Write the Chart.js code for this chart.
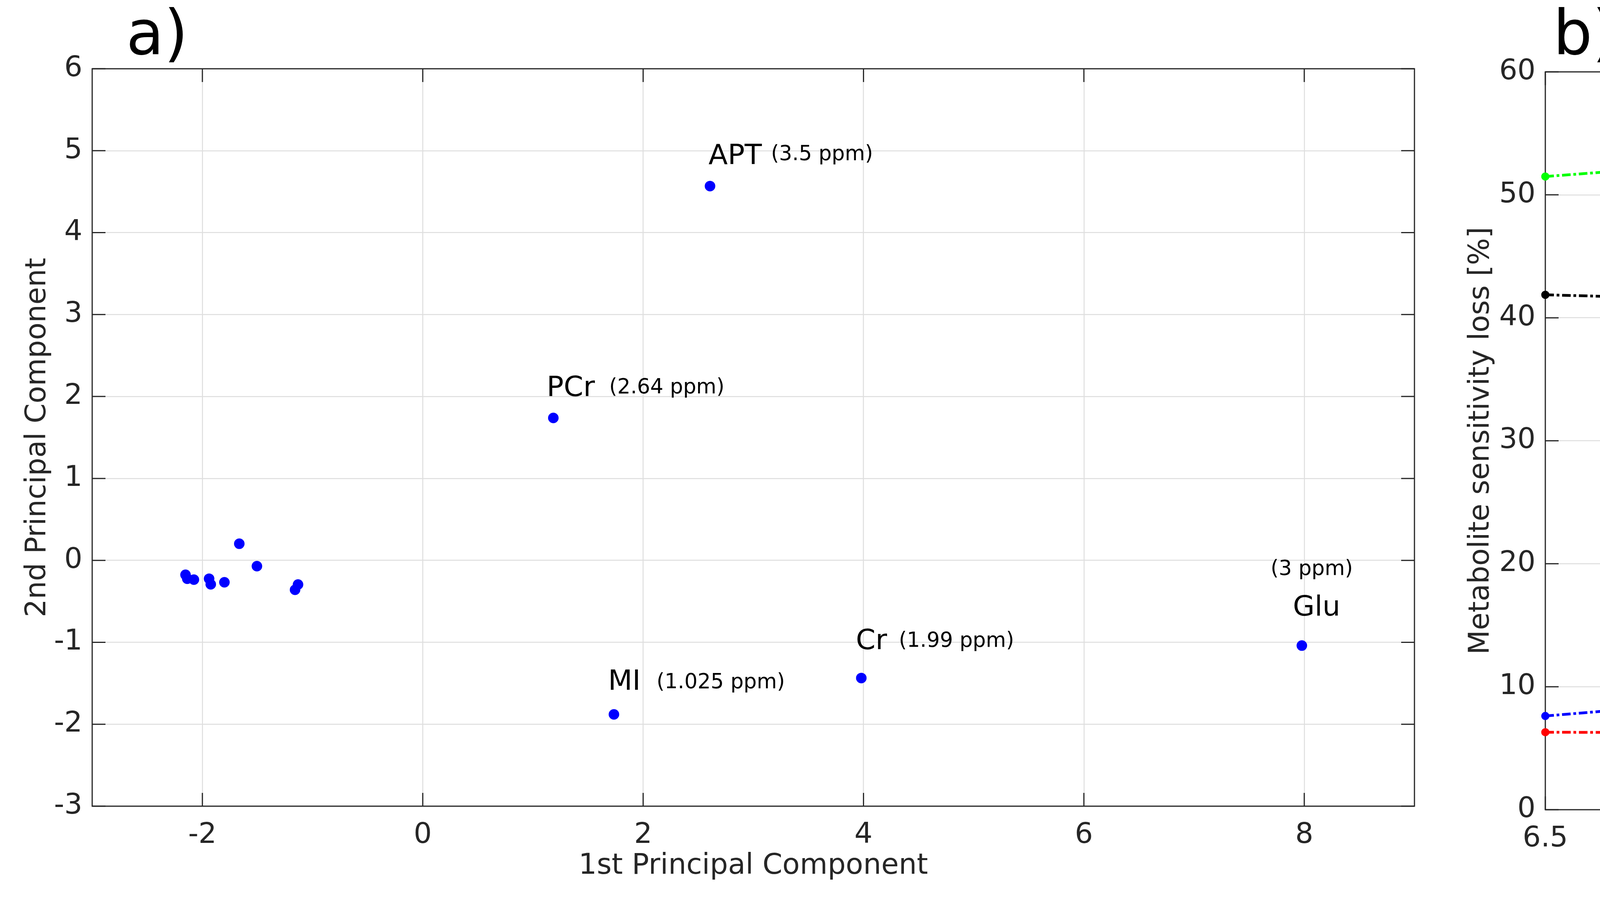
<!DOCTYPE html>
<html>
<head>
<meta charset="utf-8">
<title>PCA and pH sensitivity</title>
<script src="https://cdn.jsdelivr.net/npm/chart.js@4.4.1/dist/chart.umd.min.js"></script>
<style>
    html, body { margin: 0; padding: 0; background: #fff; }
    #wrap { position: relative; width: 7414px; height: 2317px; }
    .panel { position: absolute; top: 0; height: 2317px; }
</style>
</head>
<body>
<div id="wrap">
    <div class="panel" style="left:0;width:3700px"><canvas id="pca" width="3700" height="2317"></canvas></div>
    <div class="panel" style="left:3700px;width:3714px"><canvas id="ph" width="3714" height="2317"></canvas></div>
</div>
<script>
// datos panel a (componentes principales)
const pcaX = [-2.153, -2.137, -2.077, -1.939, -1.924, -1.800, -1.665, -1.505, -1.132, -1.159,
              2.607, 1.185, 1.735, 3.980, 7.978];
const pcaY = [-0.176, -0.224, -0.235, -0.224, -0.292, -0.267, 0.203, -0.071, -0.295, -0.359,
              4.568, 1.738, -1.880, -1.436, -1.040];
const pcaNames = ['', '', '', '', '', '', '', '', '', '', 'APT', 'PCr', 'MI', 'Cr', 'Glu'];
const pcaShifts = ['', '', '', '', '', '', '', '', '', '', '(3.5 ppm)', '(2.64 ppm)', '(1.025 ppm)', '(1.99 ppm)', '(3 ppm)'];
const pcaTicksX = [-2, 0, 2, 4, 6, 8];
const pcaTicksY = [-3, -2, -1, 0, 1, 2, 3, 4, 5, 6];

// datos panel b (pH)
const phValues = [6.5, 6.6, 6.7, 6.8, 6.9, 7.0, 7.1, 7.2, 7.3, 7.4, 7.5];
const lossMI = [7.62, 8.51, 9.46, 10.39, 11.38, 12.41, 13.40, 14.34, 15.28, 16.26, 17.21];
const lossTCr = [6.30, 6.27, 6.24, 6.21, 6.20, 6.21, 6.23, 6.26, 6.30, 6.35, 6.40];
const lossGlu = [51.49, 52.30, 53.10, 53.85, 54.56, 55.22, 55.73, 56.20, 56.58, 56.88, 57.08];
const lossAPT = [41.87, 41.59, 41.26, 40.70, 39.95, 38.96, 37.64, 35.81, 33.32, 29.89, 25.24];
const seriesNames = ['MI (1.025 ppm)', 'tCr (1.99 ppm)', 'Glu (3 ppm)', 'APT (3.5 ppm)'];
const phTicks = [6.5, 6.6, 6.7, 6.8, 6.9, 7.0, 7.1, 7.2, 7.3, 7.4, 7.5];
const lossTicks = [0, 10, 20, 30, 40, 50, 60];

Chart.defaults.font.family = '"DejaVu Sans"';
Chart.defaults.color = '#262626';

const AXIS = '#262626';
const GRID = '#dedede';
const DASH = [22, 7, 7, 7];

// caja completa con marcas hacia dentro (estilo matlab)
const boxPlugin = {
    id: 'box',
    beforeDatasetsDraw(chart) {
        const { ctx, chartArea: a, scales: { x, y } } = chart;
        ctx.save();
        ctx.strokeStyle = AXIS;
        ctx.lineWidth = 3;
        ctx.beginPath();
        x.ticks.forEach((t) => {
            const px = x.getPixelForValue(t.value);
            ctx.moveTo(px, a.bottom); ctx.lineTo(px, a.bottom - 34);
            ctx.moveTo(px, a.top); ctx.lineTo(px, a.top + 34);
        });
        y.ticks.forEach((t) => {
            const py = y.getPixelForValue(t.value);
            ctx.moveTo(a.left, py); ctx.lineTo(a.left + 34, py);
            ctx.moveTo(a.right, py); ctx.lineTo(a.right - 34, py);
        });
        ctx.stroke();
        ctx.strokeRect(a.left, a.top, a.width, a.height);
        ctx.restore();
    },
    afterDraw(chart, args, opts) {
        const { ctx } = chart;
        ctx.save();
        ctx.fillStyle = '#000';
        ctx.font = '158px "DejaVu Sans"';
        ctx.textBaseline = 'alphabetic';
        ctx.fillText(opts.tag, opts.tagX, 139);
        ctx.restore();
    },
};

// etiquetas de los metabolitos
const pointLabels = {
    id: 'pointLabels',
    afterDatasetsDraw(chart, args, opts) {
        const { ctx, scales: { x, y } } = chart;
        ctx.save();
        ctx.fillStyle = '#000';
        ctx.textBaseline = 'alphabetic';
        pcaNames.forEach((name, i) => {
            if (!name) return;
            const off = opts.offsets[name];
            const px = x.getPixelForValue(pcaX[i]);
            const py = y.getPixelForValue(pcaY[i]);
            ctx.font = '72px "DejaVu Sans"';
            ctx.fillText(name, px + off[0], py + off[1]);
            ctx.font = '53px "DejaVu Sans"';
            ctx.fillText(pcaShifts[i], px + off[2], py + off[3]);
        });
        ctx.restore();
    },
};

// leyenda dibujada a mano
const lineLegend = {
    id: 'lineLegend',
    afterDraw(chart) {
        const { ctx, chartArea: a } = chart;
        ctx.save();
        ctx.font = '73px "DejaVu Sans"';
        let maxW = 0;
        chart.data.datasets.forEach((ds) => { maxW = Math.max(maxW, ctx.measureText(ds.label).width); });
        const w = 116 + maxW + 20;
        const h = 370;
        const right = a.right - 91;
        const left = right - w;
        const top = a.top + 218;
        ctx.fillStyle = '#fff';
        ctx.fillRect(left, top, w, h);
        ctx.strokeStyle = AXIS;
        ctx.lineWidth = 2.5;
        ctx.strokeRect(left, top, w, h);
        chart.data.datasets.forEach((ds, i) => {
            const base = top + 78 + i * 89.3;
            const ly = base - 28;
            ctx.strokeStyle = ds.borderColor;
            ctx.lineWidth = 7;
            ctx.setLineDash(DASH);
            ctx.beginPath();
            ctx.moveTo(left + 16, ly);
            ctx.lineTo(left + 110, ly);
            ctx.stroke();
            ctx.setLineDash([]);
            ctx.fillStyle = ds.borderColor;
            ctx.beginPath();
            ctx.arc(left + 64, ly, 10.5, 0, Math.PI * 2);
            ctx.fill();
            ctx.fillStyle = '#000';
            ctx.fillText(ds.label, left + 116, base);
        });
        // punto suelto bajo el eje
        ctx.font = '22px "DejaVu Sans"';
        ctx.fillStyle = '#262626';
        ctx.fillText('.', 1155, 2292);
        ctx.restore();
    },
};

const tickFont = { size: 73 };
const titleFont = { size: 73 };

// gráfico a
new Chart(document.getElementById('pca'), {
    type: 'scatter',
    data: {
        datasets: [{
            data: pcaX.map((v, i) => ({ x: v, y: pcaY[i] })),
            backgroundColor: '#0000ff',
            borderWidth: 0,
            pointRadius: 13.5,
            pointHoverRadius: 13.5,
        }],
    },
    options: {
        responsive: false,
        devicePixelRatio: 1,
        animation: false,
        layout: { padding: { top: 176, right: 79, left: 0, bottom: 0 } },
        plugins: {
            legend: { display: false },
            tooltip: { enabled: false },
            box: { tag: 'a)', tagX: 323 },
            pointLabels: {
                offsets: {
                    APT: [-4, -56, 156, -66],
                    PCr: [-17, -56, 143, -63],
                    MI: [-15, -63, 109, -67],
                    Cr: [-14, -74, 96, -80],
                    Glu: [-23, -77, -80, -181],
                },
            },
        },
        scales: {
            x: {
                type: 'linear', min: -3, max: 9,
                afterBuildTicks: (s) => { s.ticks = pcaTicksX.map((v) => ({ value: v })); },
                afterFit: (s) => { s.height = 253; },
                ticks: { font: tickFont, padding: 31, color: AXIS },
                grid: { color: GRID, lineWidth: 2.5, drawTicks: false },
                border: { display: false },
                title: { display: true, text: '1st Principal Component', font: titleFont, color: AXIS, padding: { top: 0, bottom: 55 } },
            },
            y: {
                type: 'linear', min: -3, max: 6,
                afterBuildTicks: (s) => { s.ticks = pcaTicksY.map((v) => ({ value: v })); },
                afterFit: (s) => { s.width = 236; },
                ticks: { font: tickFont, padding: 25, color: AXIS },
                grid: { color: GRID, lineWidth: 2.5, drawTicks: false },
                border: { display: false },
                title: { display: true, text: '2nd Principal Component', font: titleFont, color: AXIS, padding: { top: 53, bottom: 0 } },
            },
        },
    },
    plugins: [boxPlugin, pointLabels],
});

// gráfico b
const colors = ['#0000ff', '#ff0000', '#00ff00', '#000000'];
const seriesData = [lossMI, lossTCr, lossGlu, lossAPT];

new Chart(document.getElementById('ph'), {
    type: 'line',
    data: {
        datasets: seriesData.map((vals, k) => ({
            label: seriesNames[k],
            data: phValues.map((v, i) => ({ x: v, y: vals[i] })),
            borderColor: colors[k],
            backgroundColor: colors[k],
            pointBackgroundColor: colors[k],
            borderWidth: 7,
            borderDash: DASH,
            pointRadius: 10.5,
            pointBorderWidth: 0,
            tension: 0,
            fill: false,
            clip: false,
        })),
    },
    options: {
        responsive: false,
        devicePixelRatio: 1,
        animation: false,
        layout: { padding: { top: 184, right: 72, left: 0, bottom: 0 } },
        plugins: {
            legend: { display: false },
            tooltip: { enabled: false },
            box: { tag: 'b)', tagX: 276 },
        },
        scales: {
            x: {
                type: 'linear', min: 6.5, max: 7.5,
                afterBuildTicks: (s) => { s.ticks = phTicks.map((v) => ({ value: v })); },
                afterFit: (s) => { s.height = 244; },
                ticks: { font: tickFont, padding: 31, color: AXIS, callback: (v) => String(Number(v.toFixed(1))) },
                grid: { color: GRID, lineWidth: 2.5, drawTicks: false },
                border: { display: false },
                title: { display: true, text: 'pH', font: titleFont, color: AXIS, padding: { top: 0, bottom: 42 } },
            },
            y: {
                type: 'linear', min: 0, max: 60,
                afterBuildTicks: (s) => { s.ticks = lossTicks.map((v) => ({ value: v })); },
                afterFit: (s) => { s.width = 256; },
                ticks: { font: tickFont, padding: 25, color: AXIS },
                grid: { color: GRID, lineWidth: 2.5, drawTicks: false },
                border: { display: false },
                title: { display: true, text: 'Metabolite sensitivity loss [%]', font: titleFont, color: AXIS, padding: { top: 48, bottom: 0 } },
            },
        },
    },
    plugins: [boxPlugin, lineLegend],
});
</script>
</body>
</html>
